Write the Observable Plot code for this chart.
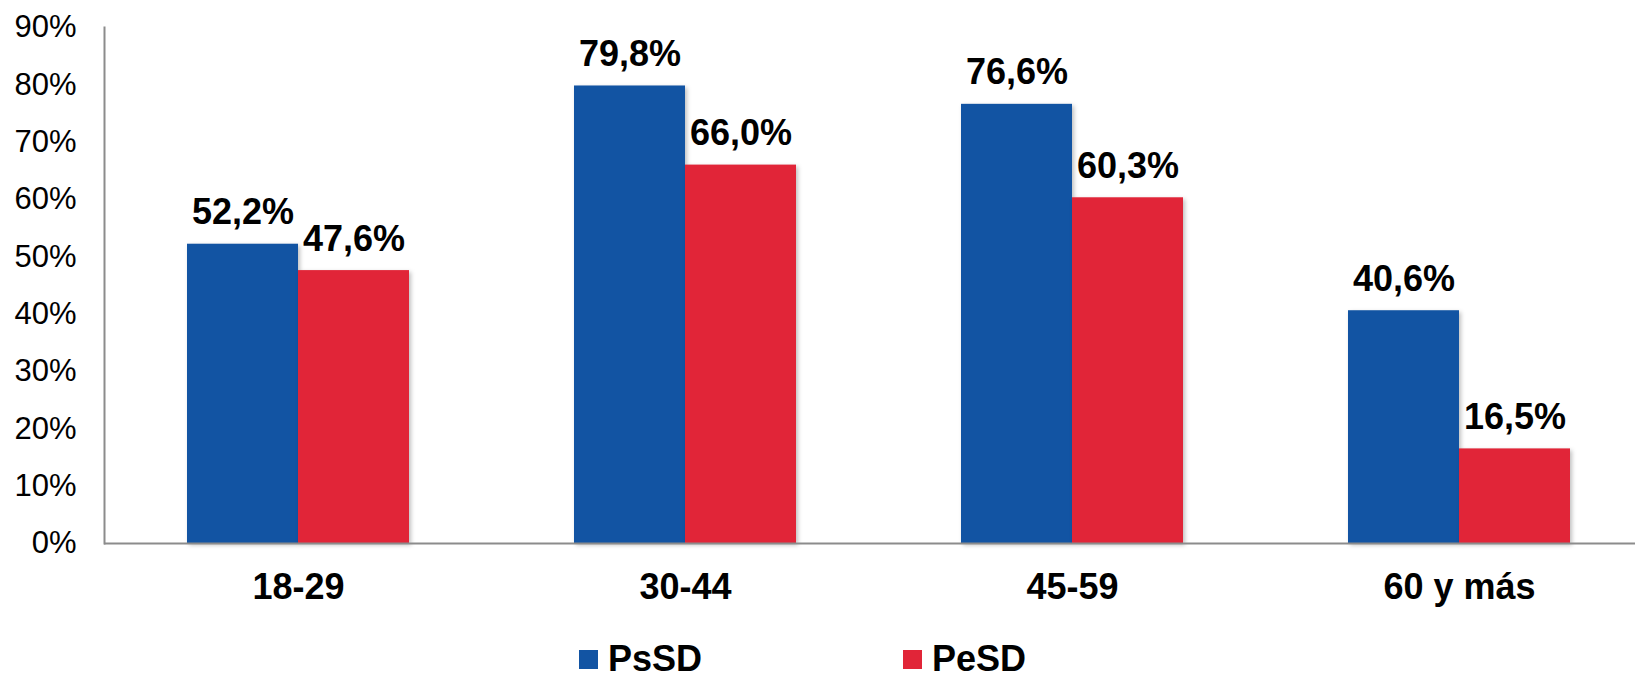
<!DOCTYPE html>
<html>
<head>
<meta charset="utf-8">
<script src="https://cdn.jsdelivr.net/npm/d3@7"></script>
<script src="https://cdn.jsdelivr.net/npm/@observablehq/plot@0.6"></script>
<style>
  html, body { margin: 0; padding: 0; background: #fff; }
  body { font-family: "Liberation Sans", Arial, sans-serif; width: 1635px; height: 677px; overflow: hidden; }
  #legend { position: relative; height: 57px; font-weight: bold; font-size: 36px; color: #000; }
  .item { position: absolute; top: 19px; display: flex; align-items: center; height: 40px; }
  .sw { width: 19px; height: 19px; margin-right: 10px; }
  g[aria-label="bar"] { filter: drop-shadow(2px 2px 2px rgba(0,0,0,0.25)); }
</style>
</head>
<body>
<div id="chart"></div>
<div id="legend"></div>
<script>
const ages = ["18-29", "30-44", "45-59", "60 y más"];
const psSD = [52.2, 79.8, 76.6, 40.6];
const peSD = [47.6, 66.0, 60.3, 16.5];
const seriesNames = ["PsSD", "PeSD"];
const seriesColors = ["#1254A3", "#E12538"];
const yTicks = [0, 10, 20, 30, 40, 50, 60, 70, 80, 90];

const rowsA = ages.map((a, i) => ({age: a, value: psSD[i], series: "PsSD"}));
const rowsB = ages.map((a, i) => ({age: a, value: peSD[i], series: "PeSD"}));
const fmt = v => v.toFixed(1).replace(".", ",") + "%";

const half = 111;
const chart = Plot.plot({
  width: 1635,
  height: 620,
  marginLeft: 104,
  marginRight: 0,
  marginTop: 27,
  marginBottom: 77,
  style: {fontFamily: "'Liberation Sans', Arial, sans-serif", color: "#000", background: "#fff"},
  x: {domain: ages, range: [104.5, 1652.5], paddingInner: 0.4264, paddingOuter: 0.2132, label: null},
  y: {domain: [0, 90], label: null},
  color: {domain: seriesNames, range: seriesColors},
  marks: [
    Plot.barY(rowsA, {x: "age", y: "value", fill: "series", insetRight: half}),
    Plot.barY(rowsB, {x: "age", y: "value", fill: "series", insetLeft: half}),
    Plot.text(rowsA, {x: "age", y: "value", text: d => fmt(d.value), dx: -half / 2, dy: -20, lineAnchor: "bottom", fontSize: 36, fontWeight: "bold", fill: "#000"}),
    Plot.text(rowsB, {x: "age", y: "value", text: d => fmt(d.value), dx: half / 2, dy: -20, lineAnchor: "bottom", fontSize: 36, fontWeight: "bold", fill: "#000"}),
    Plot.axisY({ticks: yTicks, tickFormat: d => d + "%", tickSize: 0, tickPadding: 28, fontSize: 31, label: null}),
    Plot.axisX({tickSize: 0, tickPadding: 30, fontSize: 36, fontWeight: "bold", label: null}),
    Plot.frame({anchor: "left", stroke: "#8c8c8c", strokeWidth: 2}),
    Plot.ruleY([0], {stroke: "#8c8c8c", strokeWidth: 2})
  ]
});
document.getElementById("chart").appendChild(chart);

const legend = document.getElementById("legend");
const lefts = [579, 903];
seriesNames.forEach((name, i) => {
  const it = document.createElement("div");
  it.className = "item";
  it.style.left = lefts[i] + "px";
  const sw = document.createElement("div");
  sw.className = "sw";
  sw.style.background = seriesColors[i];
  const t = document.createElement("span");
  t.textContent = name;
  it.appendChild(sw);
  it.appendChild(t);
  legend.appendChild(it);
});
</script>
</body>
</html>
